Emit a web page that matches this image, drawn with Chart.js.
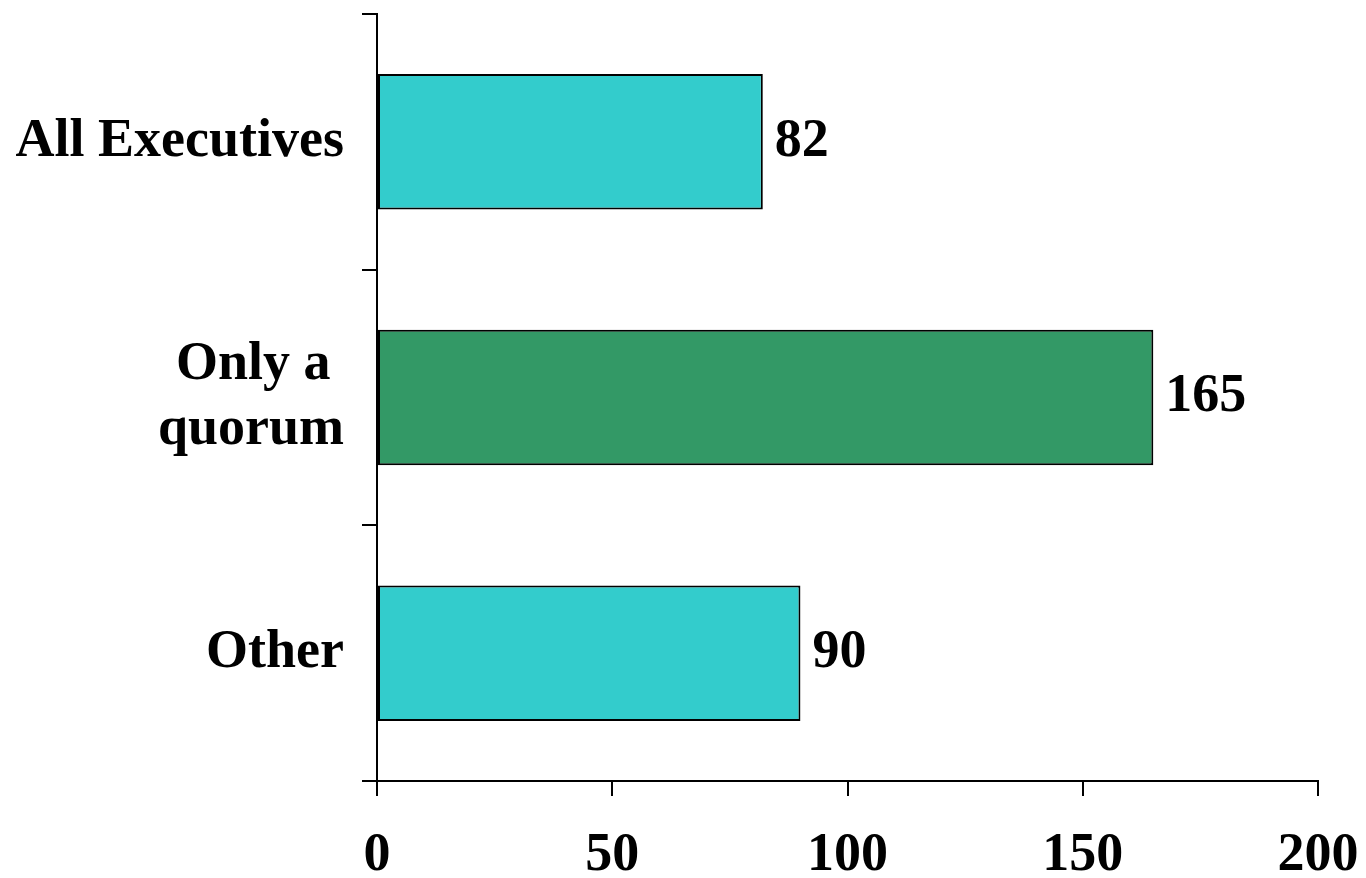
<!DOCTYPE html>
<html>
<head>
<meta charset="utf-8">
<script src="https://cdn.jsdelivr.net/npm/chart.js@4"></script>
<style>
  html,body{margin:0;padding:0;background:#fff;}
  canvas{display:block;}
</style>
</head>
<body>
<canvas id="chart" width="1366" height="878"></canvas>
<script>
// ================= DATA =================
const categories = ["All Executives", ["Only a ", "quorum"], "Other"];
const values = [82, 165, 90];
const barColors = ["#33CCCC", "#339966", "#33CCCC"];
const xTicks = [0, 50, 100, 150, 200];

const FONT = {family: "'Liberation Serif', 'Times New Roman', serif", size: 54, weight: "bold", lineHeight: 1.2};

// ================= VALUE LABELS =================
const valueLabels = {
  id: "valueLabels",
  afterDatasetsDraw(chart){
    const ctx = chart.ctx;
    const meta = chart.getDatasetMeta(0);
    ctx.save();
    ctx.font = "bold 54px " + FONT.family;
    ctx.fillStyle = "#000";
    ctx.textAlign = "left";
    ctx.textBaseline = "middle";
    meta.data.forEach((bar, i) => {
      ctx.fillText(String(values[i]), bar.x + 12, bar.y);
    });
    ctx.restore();
  }
};

// ================= CHART =================
new Chart(document.getElementById("chart"), {
  type: "bar",
  data: {
    labels: categories,
    datasets: [{
      data: values,
      backgroundColor: barColors,
      borderColor: "#000",
      borderWidth: 2,
      borderSkipped: false,
      barPercentage: 0.53,
      categoryPercentage: 1
    }]
  },
  options: {
    indexAxis: "y",
    responsive: false,
    animation: false,
    layout: {padding: {top: 14, right: 48, left: 0, bottom: 0}},
    plugins: {legend: {display: false}, tooltip: {enabled: false}},
    scales: {
      x: {
        min: xTicks[0],
        max: xTicks[xTicks.length - 1],
        afterBuildTicks: s => { s.ticks = xTicks.map(v => ({value: v})); },
        afterFit: s => { s.height = 97; s.paddingLeft = 0; s.paddingRight = 0; },
        grid: {drawOnChartArea: false, drawTicks: true, tickLength: 15, color: "#000", lineWidth: 2},
        border: {color: "#000", width: 2},
        ticks: {color: "#000", font: FONT, padding: 28, maxRotation: 0}
      },
      y: {
        afterFit: s => { s.width = 377; s.paddingTop = 0; s.paddingBottom = 0; },
        grid: {drawOnChartArea: false, drawTicks: true, tickLength: 15, color: "#000", lineWidth: 2, offset: true},
        border: {color: "#000", width: 2},
        ticks: {color: "#000", font: FONT, padding: 18}
      }
    }
  },
  plugins: [valueLabels]
});
</script>
</body>
</html>
